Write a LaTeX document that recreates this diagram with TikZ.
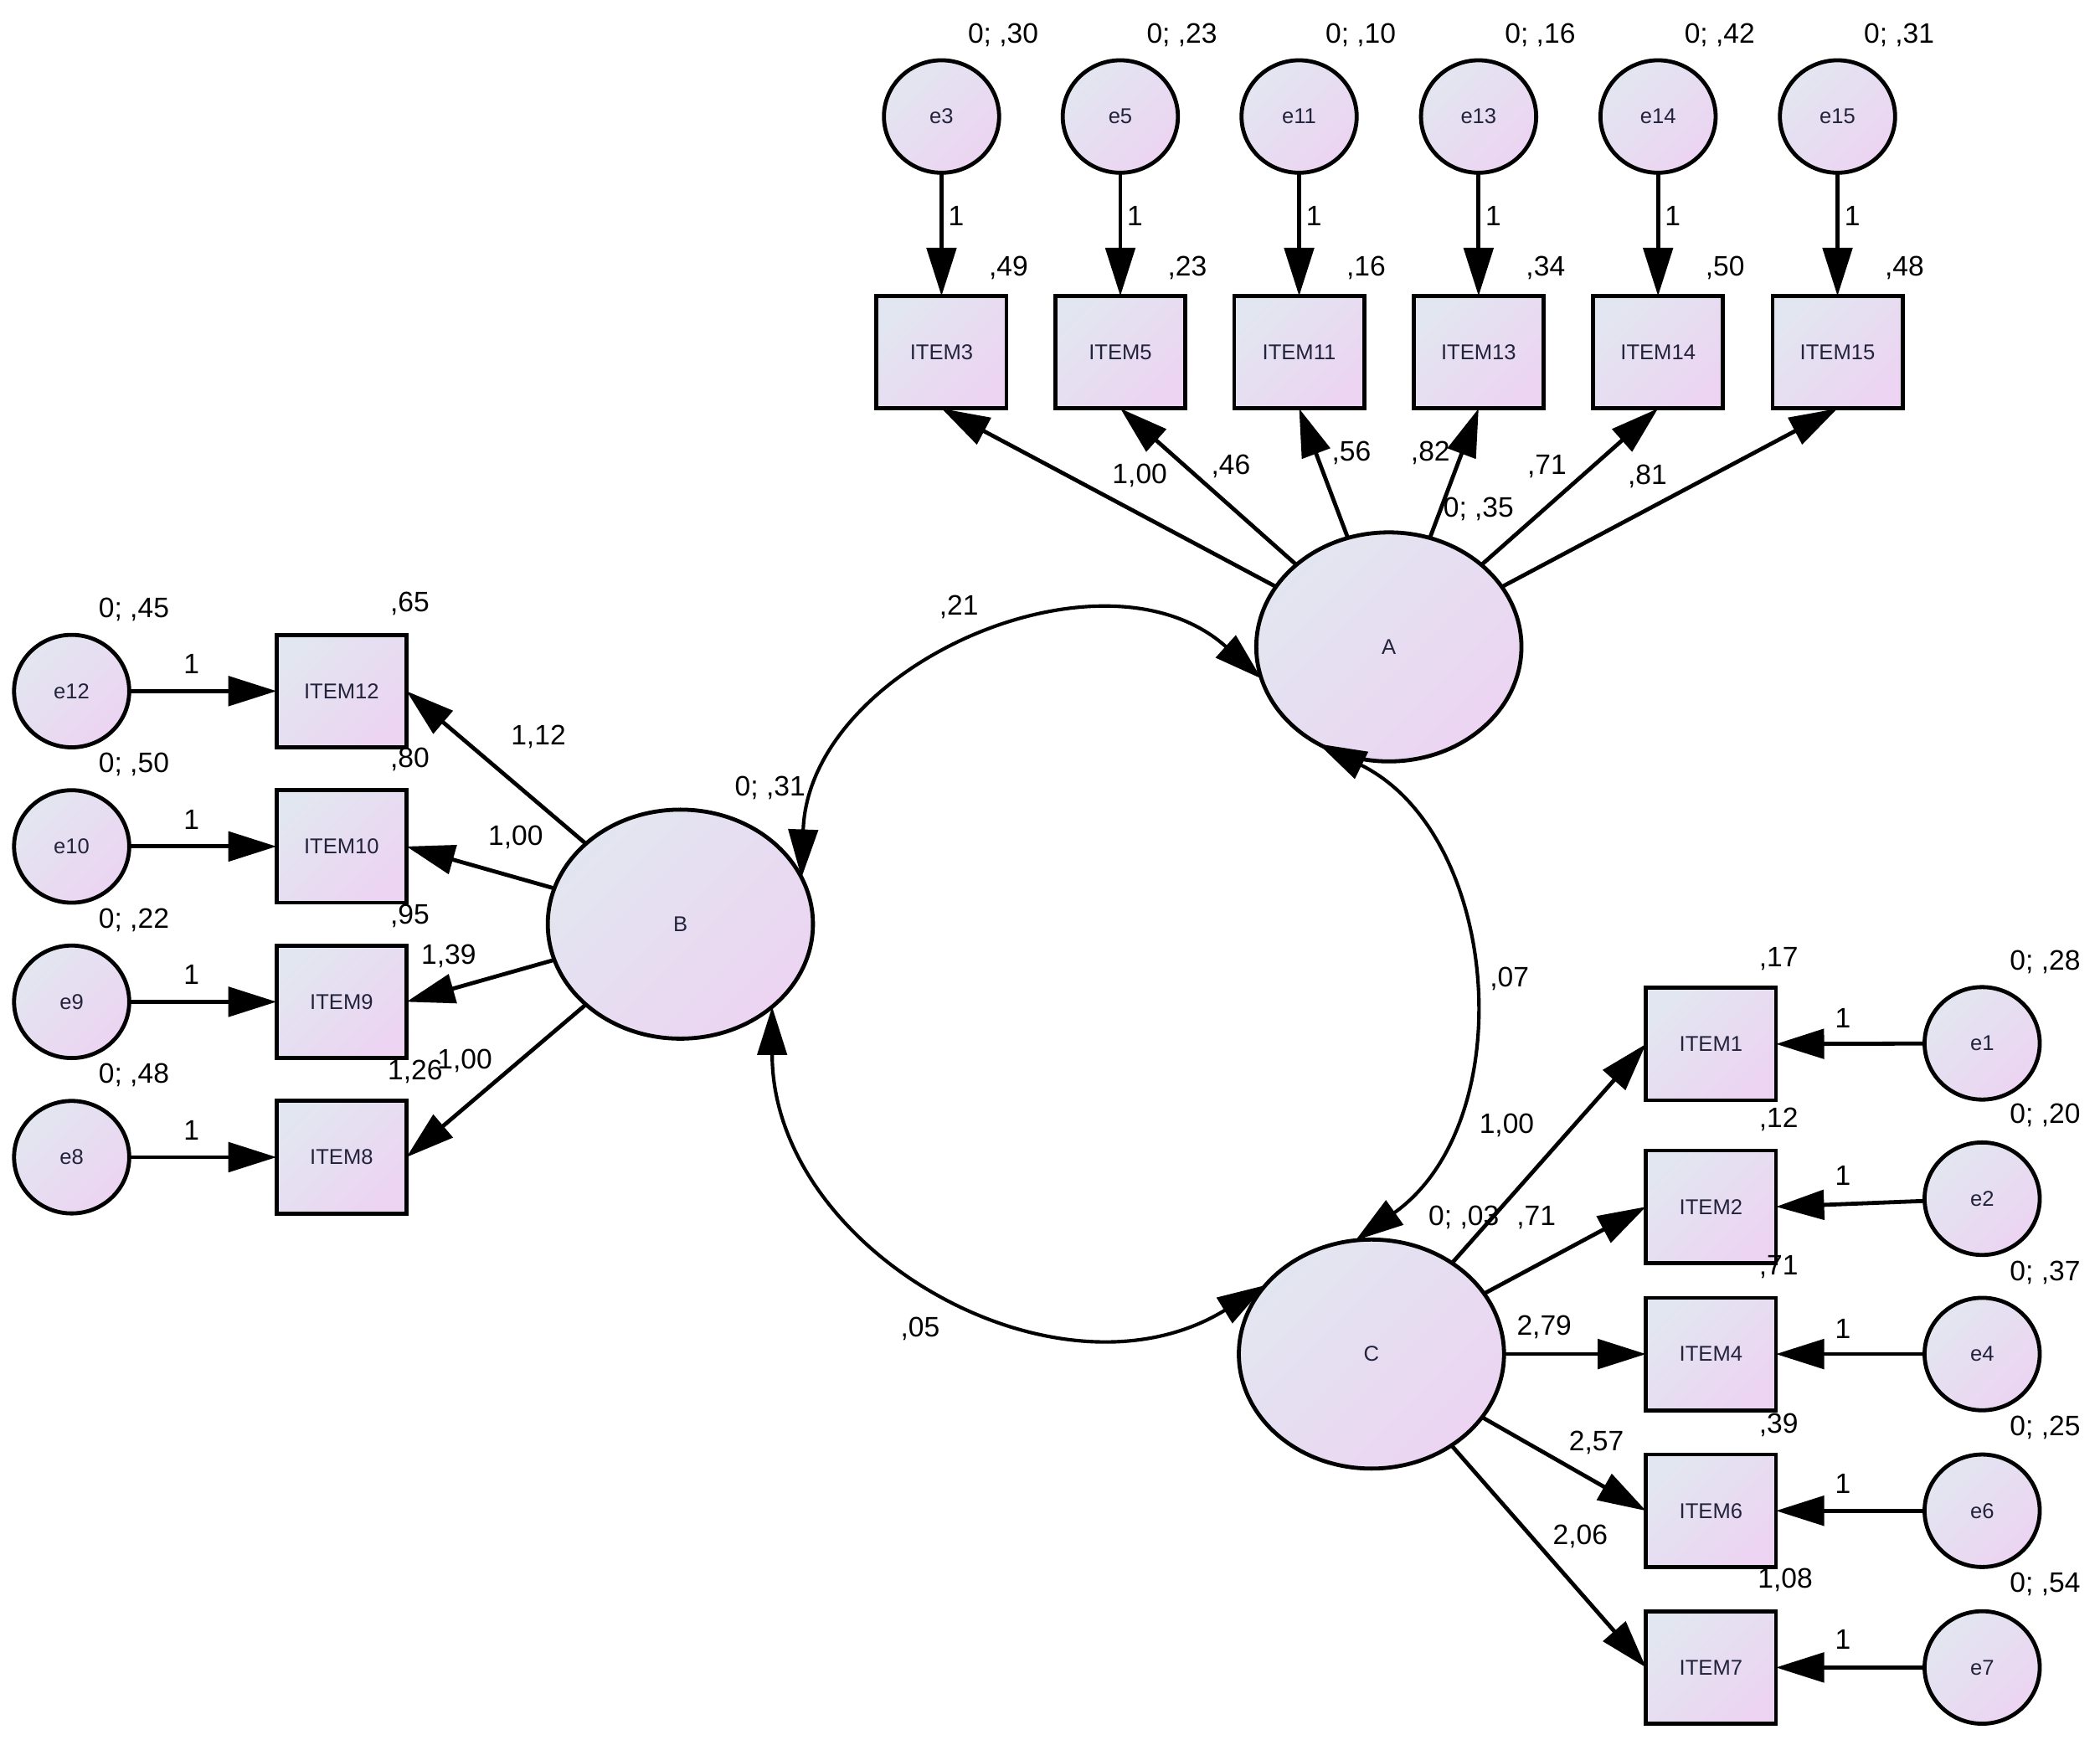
\documentclass[tikz,border=0pt]{standalone}
\usepackage{fontspec}
\setmainfont{Liberation Sans}
\usetikzlibrary{arrows.meta,shapes.geometric}
\definecolor{shA}{RGB}{226,230,240}
\definecolor{shB}{RGB}{236,212,242}
\definecolor{nodetext}{RGB}{35,35,60}
\tikzset{
  fillsh/.style={draw=black, line width=1.5pt, top color=shA, bottom color=shB, shading angle=45,
    text=nodetext, font=\fontsize{8}{9.6}\selectfont, inner sep=0pt, outer sep=0pt},
  evar/.style={fillsh, ellipse, minimum width=43pt, minimum height=42pt},
  item/.style={fillsh, rectangle, minimum width=48.5pt, minimum height=42pt},
  latent/.style={fillsh, ellipse, minimum width=99pt, minimum height=85.5pt},
  lbl/.style={font=\fontsize{10.5}{12}\selectfont, inner sep=0pt},
  arr/.style={line width=1.5pt, -{Triangle[length=18pt,width=11pt]}},
  cov/.style={line width=1.3pt, {Triangle[length=18pt,width=11pt]}-{Triangle[length=18pt,width=11pt]}}
}
\begin{document}
\begin{tikzpicture}[x=0.5pt,y=0.5pt]
\useasboundingbox (0,0) rectangle (1568,-1299);
% latent variables
\node[latent] (A) at (1037,-483) {A};
\node[latent] (B) at (508,-690) {B};
\node[latent] (C) at (1024,-1011) {C};
% top row
\foreach \n/\x in {3/703,5/836.5,11/970,13/1104,14/1238,15/1372}{
  \node[evar] (e\n) at (\x,-87) {e\n};
  \node[item] (ITEM\n) at (\x,-263) {ITEM\n};
}
% left column
\foreach \n/\y in {12/516,10/632,9/748,8/864}{
  \node[evar] (e\n) at (53.5,-\y) {e\n};
  \node[item] (ITEM\n) at (255,-\y) {ITEM\n};
}
% right column
\foreach \n/\y/\ey in {1/779.5/779,2/901/895,4/1011/1011,6/1128/1128,7/1245/1245}{
  \node[item] (ITEM\n) at (1277.5,-\y) {ITEM\n};
  \node[evar] (e\n) at (1480,-\ey) {e\n};
}
% error arrows
\foreach \n in {3,5,11,13,14,15}{ \draw[arr] (e\n) -- (ITEM\n.north); }
\foreach \n in {12,10,9,8}{ \draw[arr] (e\n) -- (ITEM\n.west); }
\foreach \n in {1,2,4,6,7}{ \draw[arr] (e\n) -- (ITEM\n.east); }
% loadings
\foreach \n in {3,5,11,13,14,15}{ \draw[arr] (A) -- (ITEM\n.south); }
\foreach \n in {12,10,9,8}{ \draw[arr] (B) -- (ITEM\n.east); }
\foreach \n in {1,2,4,6,7}{ \draw[arr] (C) -- (ITEM\n.west); }
% covariances
\draw[cov] (B.21.5) to[out=88,in=138,looseness=1.08] (A.194.5);
\draw[cov] (A.234.2) to[out=-26.4,in=35.4,looseness=1.05] (C.98.2);
\draw[cov] (B.-42.8) to[out=270,in=211.6,looseness=1.1] (C.147.2);
% top labels
\foreach \x/\v/\s in {703/30/49,836.5/23/23,970/10/16,1104/16/34,1238/42/50,1372/31/48}{
  \node[lbl] at (\x+46,-26) {0; ,\v};
  \node[lbl] at (\x+11,-161) {1};
  \node[lbl] at (\x+50,-200) {,\s};
}
% top loadings
\node[lbl] (lA1) at (851,-355) {1,00};
\node[lbl] (lA2) at (919,-348) {,46};
\node[lbl] (lA3) at (1009,-338) {,56};
\node[lbl] (lA4) at (1068,-338) {,82};
\node[lbl] (lAv) at (1104,-380) {0; ,35};
\node[lbl] (lA5) at (1155,-348) {,71};
\node[lbl] (lA6) at (1230,-356) {,81};
% left labels
\foreach \y/\v in {516/45,632/50,748/22,864/48}{
  \node[lbl] at (100,-\y+61) {0; ,\v};
  \node[lbl] at (143,-\y+20) {1};
}
\node[lbl] at (306,-451) {,65};
\node[lbl] at (306,-567) {,80};
\node[lbl] at (306,-684) {,95};
\node[lbl] at (347,-792) {1,00};
\node[lbl] at (310,-800) {1,26};
\node[lbl] at (402,-550) {1,12};
\node[lbl] at (385,-625) {1,00};
\node[lbl] at (335,-714) {1,39};
\node[lbl] at (575,-588) {0; ,31};
% right labels
\node[lbl] at (1328,-716) {,17};
\node[lbl] at (1328,-836) {,12};
\node[lbl] at (1328,-946) {,71};
\node[lbl] at (1328,-1064) {,39};
\node[lbl] at (1333,-1180) {1,08};
\foreach \y/\v in {718/28,833/20,950/37,1066/25,1183/54}{
  \node[lbl] at (1527,-\y) {0; ,\v};
}
\foreach \y in {760,878,992,1108,1224}{ \node[lbl] at (1376,-\y) {1}; }
\node[lbl] at (1125,-840) {1,00};
\node[lbl] at (1093,-909) {0; ,03};
\node[lbl] at (1147,-909) {,71};
\node[lbl] at (1153,-991) {2,79};
\node[lbl] at (1192,-1077) {2,57};
\node[lbl] at (1180,-1147) {2,06};
% covariance labels
\node[lbl] at (716,-453) {,21};
\node[lbl] at (1127,-731) {,07};
\node[lbl] at (687,-992) {,05};
\end{tikzpicture}
\end{document}
